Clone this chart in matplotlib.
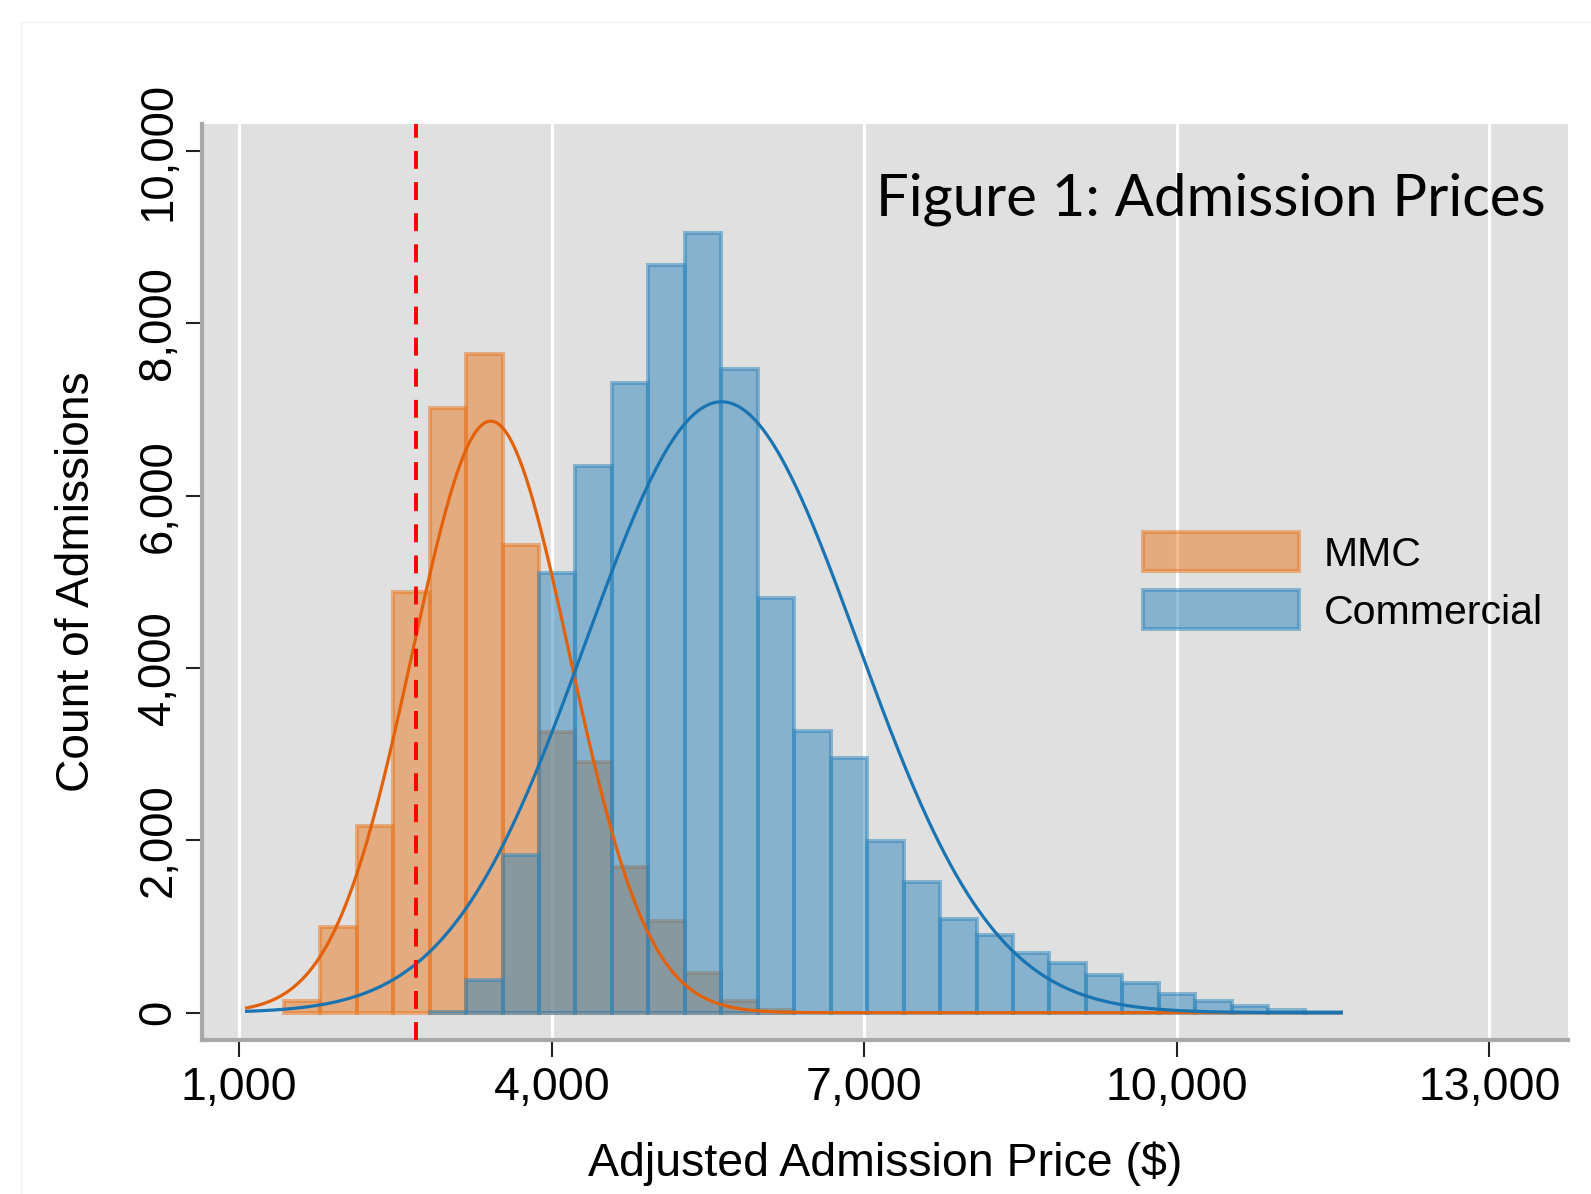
import numpy as np
import matplotlib
matplotlib.use("Agg")
import matplotlib.pyplot as plt
from matplotlib.patches import Rectangle

# ---------------- data ----------------
bin_start = 1427.5          # left edge of first histogram bin ($)
bin_width = 350.0           # histogram bin width ($)

# MMC counts, bins 0..13
mmc_counts = [140, 1000, 2170, 4880, 7020, 7640, 5425, 3255, 2915, 1695,
              1065, 460, 140, 30]
mmc_first_bin = 0

# Commercial counts, bins 4..28
com_counts = [10, 385, 1835, 5100, 6345, 7305, 8675, 9050, 7475, 4810,
              3265, 2950, 1992, 1518, 1082, 900, 688, 578, 443, 345,
              218, 138, 80, 32, 10]
com_first_bin = 4

# fitted normal overlays: (mean, sd, peak height)
mmc_fit = (3414, 755, 6865)
com_fit = (5630, 1305, 7090)
fit_range = (1070, 11578)

threshold = 2700            # red dashed reference line

x_ticks = [1000, 4000, 7000, 10000, 13000]
y_ticks = [0, 2000, 4000, 6000, 8000, 10000]
series_labels = ["MMC", "Commercial"]
title_text = "Figure 1: Admission Prices"
x_label = "Adjusted Admission Price ($)"
y_label = "Count of Admissions"

# ---------------- style ----------------
W, H = 1591, 1194
DPI = 100
orange = "#e87722"
blue = "#2e86be"
orange_line = "#e2620c"
blue_line = "#1a74b2"
plt.rcParams["font.family"] = ["Liberation Sans", "DejaVu Sans"]

fig = plt.figure(figsize=(W / DPI, H / DPI), dpi=DPI, facecolor="white")

# faint outer frame
fig.add_artist(Rectangle((21 / W, -0.01), 1.1, (H - 22) / H + 0.01,
                         transform=fig.transFigure, fill=False,
                         edgecolor="#f2f2f2", lw=1))

ax_l, ax_r, ax_t, ax_b = 202, 1568, 124, 1039.5
ax = fig.add_axes([ax_l / W, (H - ax_b) / H, (ax_r - ax_l) / W, (ax_b - ax_t) / H])
ax.set_facecolor("#e0e0e0")

def edges_for(first, n):
    return bin_start + bin_width * (first + np.arange(n))

mmc_left = edges_for(mmc_first_bin, len(mmc_counts))
com_left = edges_for(com_first_bin, len(com_counts))

b1 = ax.bar(mmc_left, mmc_counts, width=bin_width, align="edge",
            color=orange, edgecolor=orange, alpha=0.5, linewidth=2.9, zorder=2)
b2 = ax.bar(com_left, com_counts, width=bin_width, align="edge",
            color=blue, edgecolor=blue, alpha=0.5, linewidth=2.9, zorder=3)

xs = np.linspace(fit_range[0], fit_range[1], 600)
def normal_curve(fit):
    m, s, pk = fit
    return pk * np.exp(-0.5 * ((xs - m) / s) ** 2)

ax.plot(xs, normal_curve(mmc_fit), color=orange_line, lw=2.3, zorder=4)
ax.plot(xs, normal_curve(com_fit), color=blue_line, lw=2.3, zorder=5)

ax.axvline(threshold, color="#ff0000", lw=2.8, linestyle=(0, (4.6, 3.4)), zorder=6)

# axes limits and ticks
px_per_x = (1489.3 - 239.3) / 12000
px_per_y = (1012.7 - 151) / 10000
ax.set_xlim(1000 - (239.3 - ax_l) / px_per_x, 13000 + (ax_r - 1489.3) / px_per_x)
ax.set_ylim(-(ax_b - 1012.7) / px_per_y, 10000 + (151 - ax_t) / px_per_y)

ax.set_xticks(x_ticks)
ax.set_xticklabels([f"{v:,}" for v in x_ticks])
ax.set_yticks(y_ticks)
ax.set_yticklabels([f"{v:,}" for v in y_ticks])
ax.tick_params(axis="x", labelsize=33.5, length=12, width=1.5, color="#222222", pad=7)
ax.tick_params(axis="y", labelsize=32.8, length=11.5, width=1.5, color="#222222",
               pad=4, labelrotation=90)
for lab in ax.get_yticklabels():
    lab.set_va("center")

ax.grid(axis="x", color="white", lw=2.3)
ax.grid(axis="y", visible=False)
ax.set_axisbelow(True)

for side in ["top", "right"]:
    ax.spines[side].set_visible(False)
for side in ["left", "bottom"]:
    ax.spines[side].set_color("#a8a8a8")
    ax.spines[side].set_linewidth(3.0)

ax.set_xlabel(x_label, fontsize=33.5, labelpad=23)
ax.set_ylabel(y_label, fontsize=33.2, labelpad=27)

ax.legend([b1, b2], series_labels, loc="upper left",
          bbox_to_anchor=(1143 / W, (H - 532) / H), bbox_transform=fig.transFigure,
          frameon=False, fontsize=29.5, handlelength=3.8, handleheight=1.1,
          handletextpad=0.62, labelspacing=0.40, borderpad=0, borderaxespad=0)

# title inside plot, fitted to its measured width
t = fig.text(876 / W, (H - 215) / H, title_text, fontsize=44,
             family=["Lato", "DejaVu Sans"], ha="left", va="baseline", color="black")
r = fig.canvas.get_renderer()
wpx = t.get_window_extent(renderer=r).width
t.set_fontsize(44 * 670 / wpx)

fig.savefig("out.png", dpi=DPI, facecolor="white")
